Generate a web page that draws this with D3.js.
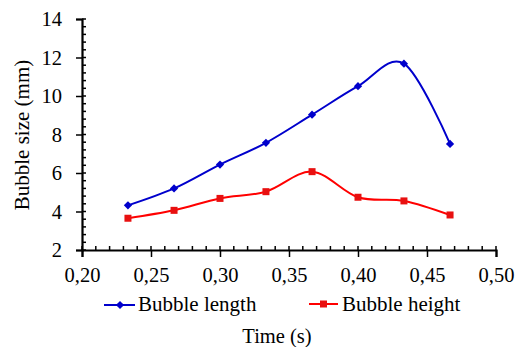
<!DOCTYPE html>
<html>
<head>
<meta charset="utf-8">
<script src="https://cdn.jsdelivr.net/npm/d3@7"></script>
</head>
<body style="margin:0">
<div id="chart"></div>
<script>
// data
let timeVals = [0.2333, 0.2667, 0.3000, 0.3333, 0.3667, 0.4000, 0.4333, 0.4667];
let bubbleLength = [4.32, 5.20, 6.44, 7.57, 9.03, 10.51, 11.68, 7.51];
let bubbleHeight = [3.65, 4.06, 4.68, 5.03, 6.07, 4.74, 4.55, 3.82];
let xTicks = [0.20, 0.25, 0.30, 0.35, 0.40, 0.45, 0.50];
let yTicks = [2, 4, 6, 8, 10, 12, 14];

function mainChart() {
    let w = 524, h = 347;
    let fontFam = "Liberation Serif";
    let blue = "#0000cc", red = "#ff0000", redMark = "#e81010";

    let svg = d3.select("#chart").append("svg")
        .attr("width", w)
        .attr("height", h)
        .attr("font-family", fontFam)
        .attr("font-size", 21);

    let x = d3.scaleLinear().domain([0.2, 0.5]).range([82, 496]);
    let y = d3.scaleLinear().domain([2, 14]).range([250, 19]);

    // minor ticks (inside)
    let xMinor = d3.range(0.2, 0.5001, 0.01);
    svg.selectAll("line.xminor").data(xMinor).enter().append("line")
        .attr("x1", d => x(d)).attr("x2", d => x(d))
        .attr("y1", y(2)).attr("y2", y(2) - 4)
        .attr("stroke", "#000").attr("stroke-width", 1.5);
    let yMinor = d3.range(2, 14.001, 0.4);
    svg.selectAll("line.yminor").data(yMinor).enter().append("line")
        .attr("x1", x(0.2)).attr("x2", x(0.2) + 4)
        .attr("y1", d => y(d)).attr("y2", d => y(d))
        .attr("stroke", "#000").attr("stroke-width", 1.5);

    // axes
    let xAxis = d3.axisBottom(x).tickValues(xTicks).tickSize(7).tickPadding(10)
        .tickFormat(d => d3.format(".2f")(d).replace(".", ","));
    let gx = svg.append("g").attr("transform", "translate(0," + y(2) + ")").call(xAxis);
    let yAxis = d3.axisLeft(y).tickValues(yTicks).tickSize(6).tickPadding(14);
    let gy = svg.append("g").attr("transform", "translate(" + x(0.2) + ",0)").call(yAxis);

    [gx, gy].forEach(function(g) {
        g.attr("font-family", null).attr("font-size", null);
        g.select(".domain").attr("stroke-width", 2.2);
        g.selectAll(".tick line").attr("stroke-width", 1.5);
        g.selectAll(".tick text").attr("fill", "#000").attr("font-family", fontFam).attr("font-size", 20.5);
    });
    gy.selectAll(".tick text").attr("dy", "0.34em");

    // series
    let lineGen = d3.line()
        .x((d, i) => x(timeVals[i]))
        .y(d => y(d))
        .curve(d3.curveCardinal.tension(0));

    svg.append("path").datum(bubbleLength)
        .attr("d", lineGen)
        .attr("fill", "none").attr("stroke", blue).attr("stroke-width", 2);
    svg.append("path").datum(bubbleHeight)
        .attr("d", lineGen)
        .attr("fill", "none").attr("stroke", red).attr("stroke-width", 2);

    let diamond = d3.symbol().type(d3.symbolSquare).size(34);
    svg.selectAll("path.blen").data(bubbleLength).enter().append("path")
        .attr("d", diamond)
        .attr("transform", (d, i) => "translate(" + x(timeVals[i]) + "," + y(d) + ") rotate(45)")
        .attr("fill", blue);

    svg.selectAll("rect.bhgt").data(bubbleHeight).enter().append("rect")
        .attr("x", (d, i) => x(timeVals[i]) - 3.5)
        .attr("y", d => y(d) - 3.5)
        .attr("width", 7).attr("height", 7)
        .attr("fill", redMark);

    // legend
    let legendY = 305;
    svg.append("line").attr("x1", 104).attr("x2", 135).attr("y1", legendY).attr("y2", legendY)
        .attr("stroke", blue).attr("stroke-width", 2);
    svg.append("path").attr("d", diamond)
        .attr("transform", "translate(120," + legendY + ") rotate(45)")
        .attr("fill", blue);
    svg.append("text").attr("x", 138).attr("y", 311)
        .attr("font-family", fontFam).attr("font-size", 21)
        .text("Bubble length");

    svg.append("line").attr("x1", 309).attr("x2", 338).attr("y1", legendY - 1).attr("y2", legendY - 1)
        .attr("stroke", red).attr("stroke-width", 2);
    svg.append("rect").attr("x", 320).attr("y", legendY - 4.5).attr("width", 7).attr("height", 7)
        .attr("fill", redMark);
    svg.append("text").attr("x", 342).attr("y", 311)
        .attr("font-family", fontFam).attr("font-size", 21)
        .text("Bubble height");

    // axis titles
    svg.append("text")
        .attr("font-family", fontFam).attr("font-size", 20.5)
        .attr("text-anchor", "middle")
        .attr("x", 277).attr("y", 343)
        .text("Time (s)");

    svg.append("text")
        .attr("font-family", fontFam).attr("font-size", 21)
        .attr("text-anchor", "middle")
        .attr("transform", "translate(29,135) rotate(-90)")
        .text("Bubble size (mm)");
}

mainChart();
</script>
</body>
</html>
